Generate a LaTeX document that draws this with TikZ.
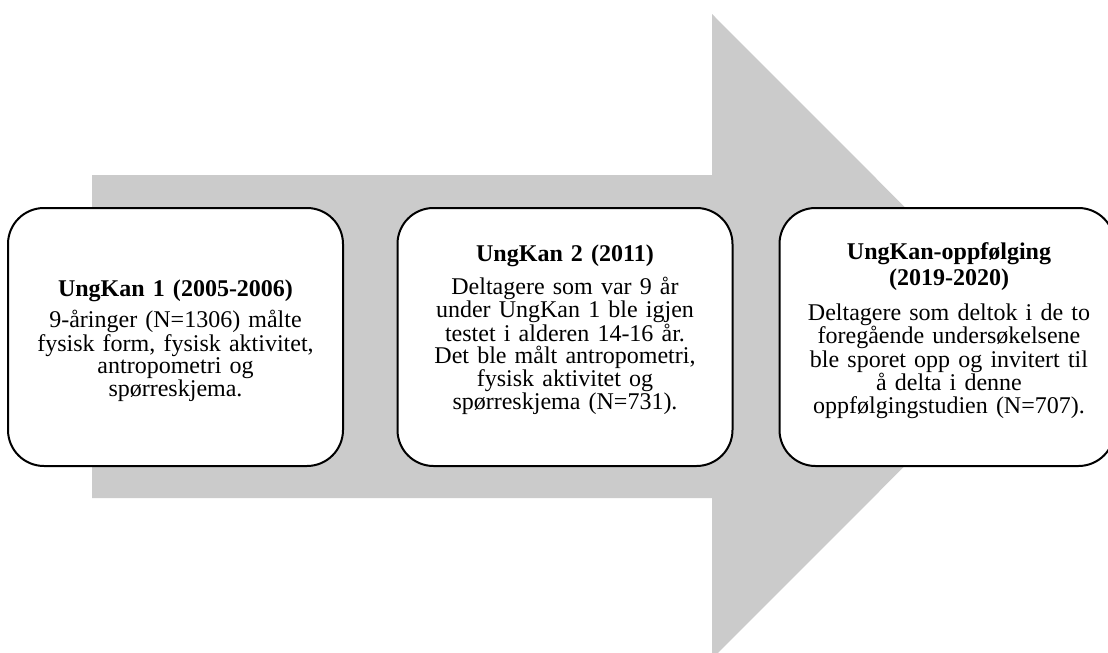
\documentclass[tikz,border=0pt]{standalone}
\usepackage{fontspec}
\setmainfont{Liberation Serif}
\definecolor{arrowgray}{RGB}{203,203,203}
\tikzset{
  stagebox/.style={draw=black, line width=1.5pt, fill=white, rounded corners=27pt,
    minimum width=251.25pt, minimum height=193.5pt, inner sep=0pt},
  stagetext/.style={align=center, inner sep=0pt},
}
\newcommand{\wordsp}{\spaceskip=0.34em plus 0.05em\relax}
\begin{document}
\begin{tikzpicture}[x=0.75pt,y=-0.75pt]
\useasboundingbox (0,0) rectangle (1108,653);
\fill[arrowgray] (92,175) -- (712,175) -- (712,14) -- (1034,336.5) -- (712,659) -- (712,498) -- (92,498) -- cycle;
\node[stagebox] (b1) at (175.5,337) {};
\node[stagebox] (b2) at (565,337) {};
\node[stagebox] (b3) at (947,337) {};
\node[stagetext, font=\fontsize{18}{15}\selectfont\wordsp] (t1) at (175.5,341)
  {\textbf{UngKan 1 (2005-2006)}\\[5pt]
   9-åringer (N=1306) målte\\
   fysisk form, fysisk aktivitet,\\
   antropometri og\\
   spørreskjema.};
\node[stagetext, font=\fontsize{18}{16.3}\selectfont\wordsp] (t2) at (565,330)
  {\textbf{UngKan 2 (2011)}\\[6.5pt]
   Deltagere som var 9 år\\
   under UngKan 1 ble igjen\\
   testet i alderen 14-16 år.\\
   Det ble målt antropometri,\\
   fysisk aktivitet og\\
   spørreskjema (N=731).};
\node[stagetext, font=\fontsize{18}{17.5}\selectfont\wordsp] (t3) at (949,331)
  {\textbf{UngKan-oppfølging}\\[1.5pt]
   \textbf{(2019-2020)}\\[9pt]
   Deltagere som deltok i de to\\
   foregående undersøkelsene\\
   ble sporet opp og invitert til\\
   å delta i denne\\
   oppfølgingstudien (N=707).};
\end{tikzpicture}
\end{document}
